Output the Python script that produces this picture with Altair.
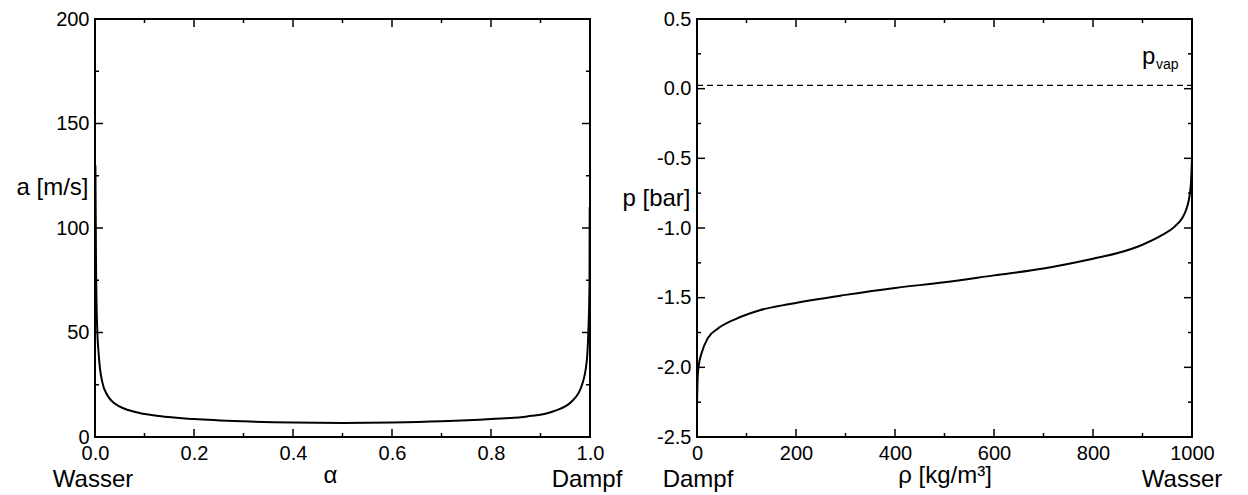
import altair as alt
import pandas as pd

# ---- left panel: speed of sound a [m/s] vs. void fraction alpha ----
alpha = [0.0008, 0.002, 0.004, 0.008, 0.015, 0.025, 0.04, 0.06, 0.09, 0.13, 0.2, 0.3,
         0.4, 0.5, 0.6, 0.7, 0.8, 0.873, 0.925, 0.963, 0.983, 0.9933, 0.9966, 0.999, 0.9994]
a_speed = [130, 85, 55, 38, 26, 20, 16, 13.5, 11.5, 10, 8.6, 7.5,
           6.9, 6.7, 6.9, 7.5, 8.6, 9.8, 12.2, 17, 24.4, 36, 50, 73, 110]

# ---- right panel: pressure p [bar] vs. density rho ----
rho = [0, 1, 3, 10, 22, 43, 80, 127, 188, 300, 400, 500, 600, 700, 800, 850, 900,
       940, 965, 980, 990, 995, 998, 1000]
p_bar = [-2.27, -2.1, -2.0, -1.89, -1.79, -1.72, -1.65, -1.59, -1.545, -1.48, -1.43,
         -1.39, -1.34, -1.29, -1.22, -1.18, -1.12, -1.05, -0.99, -0.93, -0.85, -0.77,
         -0.67, -0.5]
p_vap = 0.023

# tick positions
ax_major = [0.0, 0.2, 0.4, 0.6, 0.8, 1.0]
ax_minor = [0.1, 0.3, 0.5, 0.7, 0.9]
ay_major = [0, 50, 100, 150, 200]
ay_minor = [25, 75, 125, 175]
bx_major = [0, 200, 400, 600, 800, 1000]
bx_minor = [100, 300, 500, 700, 900]
by_major = [-2.5, -2.0, -1.5, -1.0, -0.5, 0.0, 0.5]
by_minor = [-2.25, -1.75, -1.25, -0.75, -0.25, 0.25]

left_ends = ["Wasser", "Dampf"]
right_ends = ["Dampf", "Wasser"]

W, H = 495, 418
FONT = "Liberation Sans"
TICK = 20
TITLE = 24
MAJ, MIN = 8, 4


def tick_layers(xs, ys, xax, yax, xmaj, xmin, ymaj, ymin):
    layers = []
    for vals, ln in ((xmaj, MAJ), (xmin, MIN)):
        d = pd.DataFrame({"v": vals})
        for ypos in (H - ln / 2, ln / 2):
            layers.append(alt.Chart(d).mark_tick(color="black", thickness=1.5, size=ln,
                                                 opacity=1).encode(
                x=alt.X("v:Q", scale=xs, axis=xax), y=alt.value(ypos)))
    for vals, ln in ((ymaj, MAJ), (ymin, MIN)):
        d = pd.DataFrame({"v": vals})
        for xpos in (ln / 2, W - ln / 2):
            layers.append(alt.Chart(d).mark_tick(color="black", thickness=1.5, size=ln,
                                                 opacity=1).encode(
                y=alt.Y("v:Q", scale=ys, axis=yax), x=alt.value(xpos)))
    return layers


def end_label(xs, xax, value, text, dx):
    d = pd.DataFrame({"v": [value], "t": [text]})
    return alt.Chart(d).mark_text(font=FONT, fontSize=TITLE, color="black",
                                  baseline="middle", align="center", dx=dx).encode(
        x=alt.X("v:Q", scale=xs, axis=xax), y=alt.value(461), text="t:N")


# ----- left panel -----
xsA = alt.Scale(domain=[0, 1], nice=False, zero=False, padding=0)
ysA = alt.Scale(domain=[0, 200], nice=False, padding=0)
xaxA = alt.Axis(values=ax_major, format=".1f", title="α", titlePadding=0, titleX=235,
                labelFlush=False)
yaxA = alt.Axis(values=ay_major, format="d", title="a [m/s]", titleAngle=0,
                titleAlign="right", titleBaseline="middle", titleX=-7, titleY=168,
                labelFlush=False)
dfA = pd.DataFrame({"alpha": alpha, "a": a_speed})
lineA = alt.Chart(dfA).mark_line(color="black", strokeWidth=2, interpolate="monotone",
                                 clip=True).encode(
    x=alt.X("alpha:Q", scale=xsA, axis=xaxA),
    y=alt.Y("a:Q", scale=ysA, axis=yaxA),
)
left = alt.layer(lineA,
                 *tick_layers(xsA, ysA, xaxA, yaxA, ax_major, ax_minor, ay_major, ay_minor),
                 end_label(xsA, xaxA, 0, left_ends[0], -2),
                 end_label(xsA, xaxA, 1, left_ends[1], -3)).properties(width=W, height=H)

# ----- right panel -----
xsB = alt.Scale(domain=[0, 1000], nice=False, zero=False, padding=0)
ysB = alt.Scale(domain=[-2.5, 0.5], nice=False, zero=False, padding=0)
xaxB = alt.Axis(values=bx_major, format="d", title="ρ  [kg/m³]", titlePadding=0,
                labelFlush=False)
yaxB = alt.Axis(values=by_major, format=".1f", title="p [bar]", titleAngle=0,
                titleAlign="right", titleBaseline="middle", titleX=-7, titleY=179,
                labelFlush=False,
                labelExpr="replace(datum.label, '\u2212', '-')")
dfB = pd.DataFrame({"rho": rho, "p": p_bar})
lineB = alt.Chart(dfB).mark_line(color="black", strokeWidth=2, interpolate="monotone",
                                 clip=True).encode(
    x=alt.X("rho:Q", scale=xsB, axis=xaxB),
    y=alt.Y("p:Q", scale=ysB, axis=yaxB),
)
dfV = pd.DataFrame({"p": [p_vap]})
vap_line = alt.Chart(dfV).mark_rule(color="black", strokeWidth=1.3,
                                    strokeDash=[6, 4]).encode(
    y=alt.Y("p:Q", scale=ysB, axis=yaxB), x=alt.value(0), x2=alt.value(W))
dfVt = pd.DataFrame({"r": [1000], "p": [p_vap], "t": ["p"], "s": ["vap"]})
vap_p = alt.Chart(dfVt).mark_text(font=FONT, fontSize=TITLE, color="black", align="left",
                                  baseline="alphabetic", dx=-50, dy=-21).encode(
    x=alt.X("r:Q", scale=xsB, axis=xaxB), y=alt.Y("p:Q", scale=ysB, axis=yaxB),
    text="t:N")
vap_s = alt.Chart(dfVt).mark_text(font=FONT, fontSize=14, color="black", align="left",
                                  baseline="alphabetic", dx=-36, dy=-16).encode(
    x=alt.X("r:Q", scale=xsB, axis=xaxB), y=alt.Y("p:Q", scale=ysB, axis=yaxB),
    text="s:N")
right = alt.layer(lineB, vap_line, vap_p, vap_s,
                  *tick_layers(xsB, ysB, xaxB, yaxB, bx_major, bx_minor, by_major, by_minor),
                  end_label(xsB, xaxB, 0, right_ends[0], 1),
                  end_label(xsB, xaxB, 1000, right_ends[1], -10)).properties(width=W, height=H)

chart = alt.hconcat(left, right, spacing=107, bounds="flush").properties(
    padding={"left": 6, "top": 0, "right": 0, "bottom": 0}
).configure_view(stroke="black", strokeWidth=2).configure_axis(
    domain=False, ticks=False, grid=False, labelFont=FONT, labelFontSize=TICK,
    labelColor="black", labelPadding=6, titleFont=FONT, titleFontSize=TITLE,
    titleFontWeight="normal", titleColor="black"
)

chart.save("out.html", embed_options={"renderer": "svg", "actions": False})
